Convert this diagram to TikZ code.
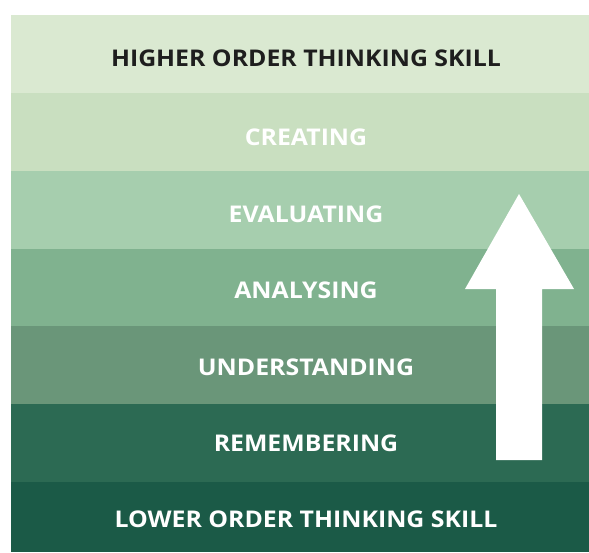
\documentclass[tikz,border=0pt]{standalone}
\usepackage{fontspec}
\setmainfont{Open Sans}
\definecolor{bandA}{HTML}{DAE9D1}
\definecolor{bandB}{HTML}{C9DFC0}
\definecolor{bandC}{HTML}{A6CEAE}
\definecolor{bandD}{HTML}{80B28F}
\definecolor{bandE}{HTML}{6A9679}
\definecolor{bandF}{HTML}{2C6A53}
\definecolor{bandG}{HTML}{1B5A47}
\definecolor{darktext}{HTML}{1E1E1E}
\newcommand{\widetxt}[1]{\scalebox{1.08}[1]{#1}}
\tikzset{
  lbl/.style={font=\fontsize{23}{23}\selectfont\bfseries, anchor=base, inner sep=0pt},
  whitelbl/.style={lbl, text=white},
}
\begin{document}
\begin{tikzpicture}[x=1pt,y=-1pt]
\useasboundingbox (0,0) rectangle (589,552);
\fill[bandA] (11,15) rectangle (589,93);
\fill[bandB] (11,93) rectangle (589,171);
\fill[bandC] (11,171) rectangle (589,249);
\fill[bandD] (11,249) rectangle (589,326);
\fill[bandE] (11,326) rectangle (589,404);
\fill[bandF] (11,404) rectangle (589,482);
\fill[bandG] (11,482) rectangle (589,552);
\fill[white] (519,194) -- (574,289) -- (542,289) -- (542,460) -- (496,460) -- (496,289) -- (465,289) -- cycle;
\node[lbl, text=darktext] (hots) at (306,66) {\widetxt{HIGHER ORDER THINKING SKILL}};
\node[whitelbl] (creating) at (306,145) {\widetxt{CREATING}};
\node[whitelbl] (evaluating) at (306,222) {\widetxt{EVALUATING}};
\node[whitelbl] (analysing) at (306,298) {\widetxt{ANALYSING}};
\node[whitelbl] (understanding) at (306,375) {\widetxt{UNDERSTANDING}};
\node[whitelbl] (remembering) at (306,451) {\widetxt{REMEMBERING}};
\node[whitelbl] (lots) at (306,527) {\widetxt{LOWER ORDER THINKING SKILL}};
\end{tikzpicture}
\end{document}
